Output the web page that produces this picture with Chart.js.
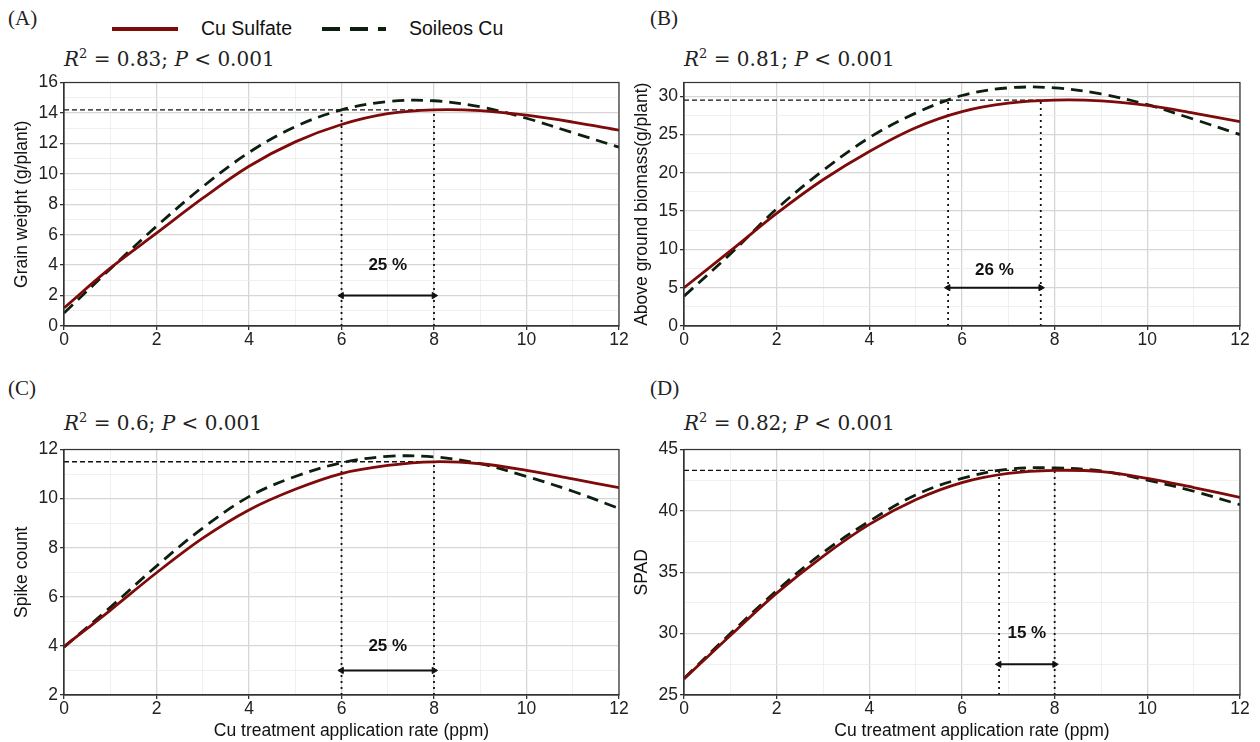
<!DOCTYPE html>
<html>
<head>
<meta charset="utf-8">
<script src="https://cdn.jsdelivr.net/npm/chart.js@4.4.1/dist/chart.umd.min.js"></script>
<style>
  html, body { margin: 0; padding: 0; background: #fff; }
  #wrap { position: relative; width: 1260px; height: 742px; overflow: hidden; background: #fff; }
  canvas { position: absolute; }
  .plabel { position: absolute; font-family: "Liberation Serif", serif; font-size: 21px; color: #222; line-height: 1; }
  .stat { position: absolute; font-family: "DejaVu Serif", serif; font-size: 20px; color: #222; line-height: 1; white-space: nowrap; }
  .stat sup { font-size: 13px; vertical-align: 8px; line-height: 0; }
  .legtxt { position: absolute; font-family: "Liberation Sans", Arial, sans-serif; font-size: 19.5px; color: #111; line-height: 1; white-space: nowrap; }
  svg.leg { position: absolute; }
</style>
</head>
<body>
<div id="wrap">
  <div class="plabel" style="left:8px; top:8px;">(A)</div>
  <div class="plabel" style="left:650px; top:8px;">(B)</div>
  <div class="plabel" style="left:8px; top:378px;">(C)</div>
  <div class="plabel" style="left:650px; top:378px;">(D)</div>

  <div class="stat" style="left:64px; top:49px;"><i>R</i><sup>2</sup> = 0.83; <i>P</i> &lt; 0.001</div>
  <div class="stat" style="left:684px; top:49px;"><i>R</i><sup>2</sup> = 0.81; <i>P</i> &lt; 0.001</div>
  <div class="stat" style="left:64px; top:413px;"><i>R</i><sup>2</sup> = 0.6; <i>P</i> &lt; 0.001</div>
  <div class="stat" style="left:684px; top:413px;"><i>R</i><sup>2</sup> = 0.82; <i>P</i> &lt; 0.001</div>

  <svg class="leg" style="left:110px; top:20px;" width="72" height="18"><line x1="2" y1="9" x2="68" y2="9" stroke="#7e0a0a" stroke-width="4"/></svg>
  <div class="legtxt" id="lg1" style="left:201px; top:19px;">Cu Sulfate</div>
  <svg class="leg" style="left:320px; top:20px;" width="72" height="18"><line x1="2" y1="9" x2="66" y2="9" stroke="#0d1f0f" stroke-width="4" stroke-dasharray="18 10"/></svg>
  <div class="legtxt" id="lg2" style="left:409px; top:19px;">Soileos Cu</div>

  <canvas id="cA" width="630" height="280" style="left:0px; top:70px;"></canvas>
  <canvas id="cB" width="630" height="280" style="left:630px; top:70px;"></canvas>
  <canvas id="cC" width="630" height="305" style="left:0px; top:437px;"></canvas>
  <canvas id="cD" width="630" height="305" style="left:630px; top:437px;"></canvas>
</div>
<script>
// ---------- data ----------
const xRate = [0, 1, 2, 3, 4, 5, 6, 7, 8, 9, 10, 11, 12];
const seriesNames = ["Cu Sulfate", "Soileos Cu"];

const grainSulfate = [1.18, 3.8, 6.1, 8.4, 10.5, 12.1, 13.24, 13.95, 14.2, 14.15, 13.85, 13.4, 12.87];
const grainSoileos = [0.85, 3.75, 6.55, 9.15, 11.4, 13.1, 14.2, 14.75, 14.8, 14.4, 13.65, 12.7, 11.75];

const biomassSulfate = [5.0, 9.8, 14.7, 19.1, 22.8, 25.9, 28.0, 29.1, 29.5, 29.4, 28.8, 27.8, 26.7];
const biomassSoileos = [3.9, 9.4, 15.3, 20.3, 24.6, 27.8, 30.1, 31.1, 31.1, 30.3, 28.9, 27.0, 25.0];

const spikeSulfate = [3.97, 5.45, 6.98, 8.39, 9.54, 10.38, 11.02, 11.35, 11.5, 11.42, 11.15, 10.8, 10.45];
const spikeSoileos = [3.95, 5.57, 7.25, 8.8, 10.08, 10.9, 11.46, 11.72, 11.7, 11.42, 10.9, 10.3, 9.6];

const spadSulfate = [26.3, 29.85, 33.3, 36.3, 38.9, 40.9, 42.3, 43.05, 43.3, 43.2, 42.65, 41.9, 41.1];
const spadSoileos = [26.35, 30.0, 33.5, 36.6, 39.15, 41.3, 42.65, 43.4, 43.5, 43.25, 42.5, 41.6, 40.5];

// tick labels (major) and minor grid values
const xTicksMajor = [0, 2, 4, 6, 8, 10, 12];
const xTicksMinor = [1, 3, 5, 7, 9, 11];
const yTicksA = [0, 2, 4, 6, 8, 10, 12, 14, 16];
const yMinorA = [1, 3, 5, 7, 9, 11, 13, 15];
const yTicksB = [0, 5, 10, 15, 20, 25, 30];
const yMinorB = [2.5, 7.5, 12.5, 17.5, 22.5, 27.5];
const yTicksC = [2, 4, 6, 8, 10, 12];
const yMinorC = [3, 5, 7, 9, 11];
const yTicksD = [25, 30, 35, 40, 45];
const yMinorD = [27.5, 32.5, 37.5, 42.5];

// reference markers: [plateau value, lower rate, upper rate, arrow y, label x, label y]
const refA = [14.2, 6, 8, 2, 7, 4];
const refB = [29.5, 5.7, 7.7, 5, 6.7, 7.3];
const refC = [11.5, 6, 8, 3, 7, 4];
const refD = [43.3, 6.8, 8, 27.5, 7.4, 30];
const labelA = "25 %", labelB = "26 %", labelC = "25 %", labelD = "15 %";
const xTitleText = "Cu treatment application rate (ppm)";

// ---------- drawing ----------
const SANS = '"Liberation Sans", Arial, sans-serif';
const RED = '#7e0a0a';
const DARK = '#0d1f0f';
const FS = 17.5;

const framePlugin = {
  id: 'frame',
  afterDraw(chart) {
    const {ctx, chartArea: a} = chart;
    ctx.save();
    ctx.strokeStyle = '#333';
    ctx.lineWidth = 1.2;
    ctx.strokeRect(a.left, a.top, a.right - a.left, a.bottom - a.top);
    ctx.restore();
  }
};
const textPlugin = {
  id: 'pctLabel',
  afterDatasetsDraw(chart, args, opts) {
    const {ctx, scales} = chart;
    ctx.save();
    ctx.font = 'bold 17px ' + SANS;
    ctx.fillStyle = '#111';
    ctx.textAlign = 'center';
    ctx.textBaseline = 'middle';
    ctx.fillText(opts.text, scales.x.getPixelForValue(opts.x), scales.y.getPixelForValue(opts.y));
    if (opts.xTitle) {
      ctx.font = FS + 'px ' + SANS;
      const a = chart.chartArea;
      ctx.fillText(opts.xTitle, (a.left + a.right) / 2 + 10, chart.height - 11);
    }
    ctx.restore();
  }
};

function makeChart(id, cfg) {
  const [ref, lo, hi, arrowY, lx, ly] = cfg.ref;
  const ymin = cfg.ymin, ymax = cfg.ymax;
  const sulf = xRate.map((x, i) => ({x, y: cfg.sulfate[i]}));
  const soil = xRate.map((x, i) => ({x, y: cfg.soileos[i]}));
  const majorY = new Set(cfg.yMajor);
  const majorX = new Set(xTicksMajor);
  const yAll = cfg.yMajor.concat(cfg.yMinor).sort((a, b) => a - b);
  const xAll = xTicksMajor.concat(xTicksMinor).sort((a, b) => a - b);
  const guide = {borderColor: '#111', pointRadius: 0, fill: false, tension: 0, order: 5};
  new Chart(document.getElementById(id), {
    type: 'line',
    data: {
      datasets: [
        Object.assign({}, guide, {label: 'plateau', data: [{x: 0, y: ref}, {x: hi, y: ref}], borderWidth: 1.4, borderDash: [5, 3]}),
        Object.assign({}, guide, {label: 'lo', data: [{x: lo, y: ymin}, {x: lo, y: ref}], borderWidth: 1.8, borderDash: [2, 4]}),
        Object.assign({}, guide, {label: 'hi', data: [{x: hi, y: ymin}, {x: hi, y: ref}], borderWidth: 1.8, borderDash: [2, 4]}),
        {label: 'arrow', data: [{x: lo, y: arrowY}, {x: hi, y: arrowY}], borderColor: '#111', backgroundColor: '#111',
         borderWidth: 2, pointStyle: 'triangle', pointRadius: 3.6, pointRotation: [-90, 90], pointBorderWidth: 1, tension: 0, order: 4},
        {label: seriesNames[1], data: soil, borderColor: DARK, borderWidth: 2.8, borderDash: [12, 7], pointRadius: 0,
         tension: 0.35, order: 2},
        {label: seriesNames[0], data: sulf, borderColor: RED, borderWidth: 2.8, pointRadius: 0,
         tension: 0.35, order: 1}
      ]
    },
    options: {
      responsive: false,
      animation: false,
      events: [],
      layout: {padding: cfg.padding},
      plugins: {
        legend: {display: false},
        tooltip: {enabled: false},
        pctLabel: {text: cfg.label, x: lx, y: ly, xTitle: cfg.xTitle ? xTitleText : null}
      },
      scales: {
        x: {
          type: 'linear', min: 0, max: 12,
          afterBuildTicks: s => { s.ticks = xAll.map(v => ({value: v})); },
          afterFit: s => { s.height = cfg.xHeight; },
          ticks: {autoSkip: false, maxRotation: 0, padding: 0, color: '#222', font: {family: SANS, size: FS},
                  callback: v => majorX.has(v) ? String(v) : ''},
          grid: {color: c => majorX.has(c.tick.value) ? '#d6d6d6' : '#ececec',
                 lineWidth: c => majorX.has(c.tick.value) ? 1.3 : 0.8,
                 tickColor: c => majorX.has(c.tick.value) ? '#333' : 'rgba(0,0,0,0)', tickLength: 4},
          border: {color: '#333', width: 1.2},
          title: {display: false}
        },
        y: {
          type: 'linear', min: ymin, max: ymax,
          afterBuildTicks: s => { s.ticks = yAll.map(v => ({value: v})); },
          afterFit: s => { s.width = cfg.yWidth; },
          ticks: {autoSkip: false, padding: 2, color: '#222', font: {family: SANS, size: FS},
                  callback: v => majorY.has(v) ? String(v) : ''},
          grid: {color: c => majorY.has(c.tick.value) ? '#d6d6d6' : '#ececec',
                 lineWidth: c => majorY.has(c.tick.value) ? 1.3 : 0.8,
                 tickColor: c => majorY.has(c.tick.value) ? '#333' : 'rgba(0,0,0,0)', tickLength: 4},
          border: {color: '#333', width: 1.2},
          title: {display: true, text: cfg.yTitle, color: '#111', font: {family: SANS, size: FS},
                  padding: {top: cfg.yTitlePad, bottom: 0}}
        }
      }
    },
    plugins: [framePlugin, textPlugin]
  });
}

makeChart('cA', {sulfate: grainSulfate, soileos: grainSoileos, ymin: 0, ymax: 16, yMajor: yTicksA, yMinor: yMinorA,
  ref: refA, label: labelA, yTitle: 'Grain weight (g/plant)', yWidth: 64, yTitlePad: 11.5, xHeight: 24, xTitle: false,
  padding: {left: 0, top: 10, right: 11, bottom: 0}});
makeChart('cB', {sulfate: biomassSulfate, soileos: biomassSoileos, ymin: 0, ymax: 31.8, yMajor: yTicksB, yMinor: yMinorB,
  ref: refB, label: labelB, yTitle: 'Above ground biomass(g/plant)', yWidth: 54, yTitlePad: 1.5, xHeight: 24, xTitle: false,
  padding: {left: 0, top: 10, right: 20, bottom: 0}});
makeChart('cC', {sulfate: spikeSulfate, soileos: spikeSoileos, ymin: 2, ymax: 12, yMajor: yTicksC, yMinor: yMinorC,
  ref: refC, label: labelC, yTitle: 'Spike count', yWidth: 64, yTitlePad: 11.5, xHeight: 47, xTitle: true,
  padding: {left: 0, top: 10, right: 11, bottom: 0}});
makeChart('cD', {sulfate: spadSulfate, soileos: spadSoileos, ymin: 25, ymax: 45, yMajor: yTicksD, yMinor: yMinorD,
  ref: refD, label: labelD, yTitle: 'SPAD', yWidth: 54, yTitlePad: 1.5, xHeight: 47, xTitle: true,
  padding: {left: 0, top: 10, right: 20, bottom: 0}});
</script>
</body>
</html>
